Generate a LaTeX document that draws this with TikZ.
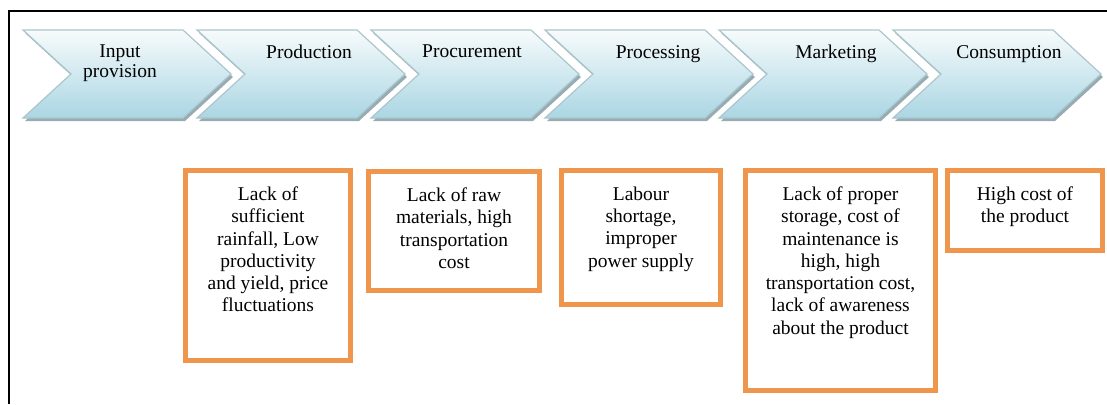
\documentclass[tikz,border=0pt]{standalone}
\usepackage{fontspec}
\setmainfont{Liberation Serif}
\usetikzlibrary{positioning}
\definecolor{chevtop}{RGB}{247,251,252}
\definecolor{chevmid}{RGB}{222,240,245}
\definecolor{chevbot}{RGB}{170,214,227}
\definecolor{chevline}{RGB}{172,198,205}
\definecolor{chevshade}{RGB}{150,172,178}
\definecolor{issueorange}{RGB}{240,150,76}
\tikzset{
    chevron/.style={top color=chevtop, middle color=chevmid, bottom color=chevbot, draw=chevline, line width=1.2pt},
    chevshadow/.style={fill=chevshade},
    stage/.style={font=\fontsize{19.5}{20}\selectfont, align=center, inner sep=0pt, anchor=north},
    issuebox/.style={draw=issueorange, line width=5pt, outer sep=0pt, inner sep=0pt, anchor=north west},
    issuetext/.style={font=\fontsize{19.5}{22.3}\selectfont, align=center, inner sep=0pt}
}
\begin{document}
\begin{tikzpicture}[x=1pt,y=-1pt]
        \useasboundingbox (0,0) rectangle (1107,404);
        \draw[line width=2pt] (9,404) -- (9,11) -- (1107,11);
        % stages of the chain
        \foreach \i/\stagename/\dx/\stagetext in {0/inp/97/{Input\\provision}, 1/prod/112/Production, 2/proc/101/Procurement, 3/pross/113/Processing, 4/mark/117/Marketing, 5/cons/116/Consumption}
        {
            \pgfmathsetmacro{\x}{23+174*\i}
            \fill[chevshadow, shift={(2,3)}] (\x,30) -- ++(160,0) -- ++(48,44) -- ++(-48,44) -- ++(-160,0) -- ++(48,-44) -- cycle;
            \shadedraw[chevron] (\x,30) -- ++(160,0) -- ++(48,44) -- ++(-48,44) -- ++(-160,0) -- ++(48,-44) -- cycle;
            \node[stage] (\stagename) at (\x+\dx,45) {\stagetext};
        }
        % constraints
        \foreach \boxname/\bx/\by/\bw/\bh/\btext in {
            prodissue/185.5/170.5/165/190/{Lack of\\sufficient\\rainfall, Low\\productivity\\and yield, price\\fluctuations},
            procissue/368.5/171.5/171/119/{Lack of raw\\materials, high\\transportation\\cost},
            prossissue/561.5/170.5/159/134/{Labour\\shortage,\\improper\\power supply},
            markissue/745.5/170.5/190/220/{Lack of proper\\storage, cost of\\maintenance is\\high, high\\transportation cost,\\lack of awareness\\about the product},
            consissue/947.5/170.5/155/80/{High cost of\\the product}}
        {
            \node[issuebox, minimum width=\bw pt, minimum height=\bh pt] (\boxname) at (\bx,\by) {};
            \node[issuetext, below=16pt of \boxname.north] (\boxname text) {\btext};
        }
\end{tikzpicture}
\end{document}
